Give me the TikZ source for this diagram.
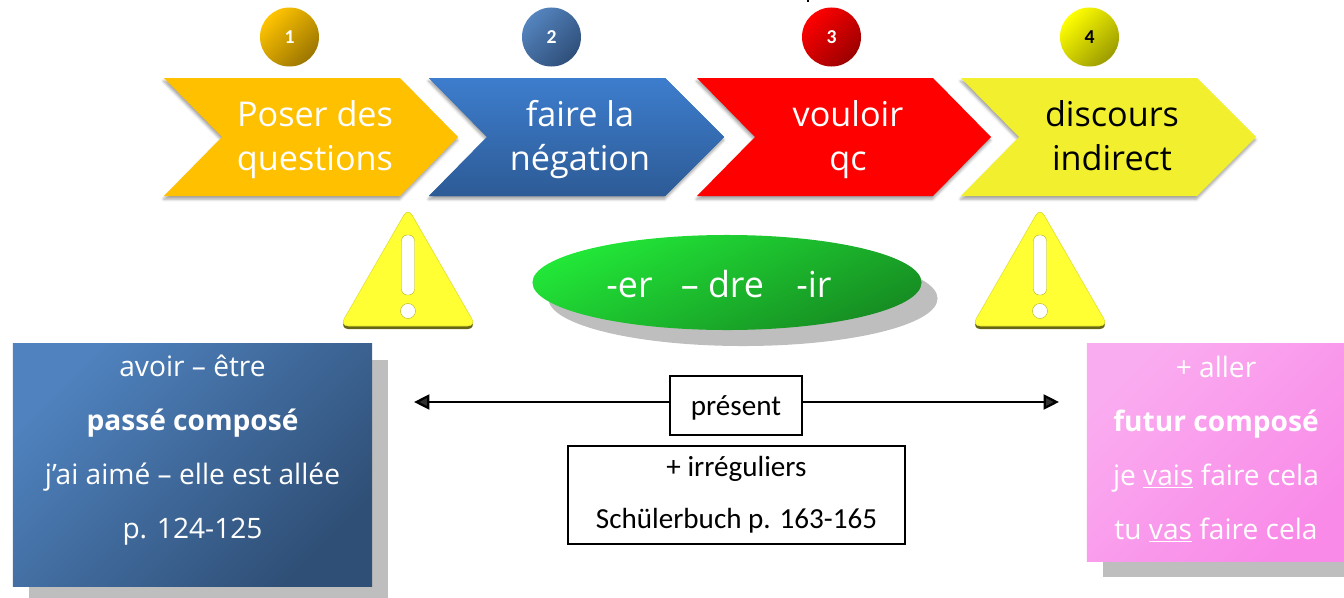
\documentclass[tikz,border=0pt]{standalone}
\usepackage{fontspec}
\setmainfont{Open Sans}
\newfontfamily\calibri{Carlito}
\usetikzlibrary{shapes,arrows,arrows.meta,positioning,shadows,shadows.blur}
\definecolor{shadowgrey}{HTML}{BEBEBE}
\definecolor{warnyellow}{HTML}{FFFF33}
\tikzset{
   chevron/.style={blur shadow={shadow xshift=-0.3pt, shadow yshift=-2.2pt, shadow blur radius=2pt, shadow opacity=38}},
   numdot/.style={circle, minimum size=59*0.7113pt, inner sep=0pt, text=white, font=\calibri\fontsize{14}{15}\bfseries\selectfont},
   steptext/.style={align=center, text=white, font=\fontsize{24.3}{31.3}\selectfont},
   sidebox/.style={inner sep=0pt, drop shadow={opacity=1, fill=shadowgrey, shadow xshift=11.38pt, shadow yshift=-11.38pt}},
   sidetext/.style={align=center, text=white, font=\fontsize{20}{38.4}\selectfont},
   plainbox/.style={draw=black, line width=1.1pt, fill=white, inner sep=0pt, align=center, font=\calibri\fontsize{20.7}{36.7}\selectfont}
}
\tikzstyle{arrow} = [line width=1.6pt,-{Triangle[length=11pt,width=10.7pt]}]

\begin{document}
\begin{tikzpicture}[x=0.025cm,y=-0.025cm]
\useasboundingbox (0,0) rectangle (1344,598);

% mark at the top edge
\fill (806.5,0) rectangle (809,2);

%% Chevrons
\fill[chevron, fill={rgb,255:red,255;green,192;blue,0}]
	(164,78) -- (400,78) -- (458,137) -- (400,196) -- (164,196) -- (222,137) -- cycle;
\node[steptext] (poser) at (315,140) {\strut Poser des\\\strut questions};

\fill[chevron, fill={rgb,255:red,52;green,108;blue,180}]
	(429,78) -- (665,78) -- (724,137) -- (665,196) -- (429,196) -- (487,137) -- cycle;
\shade[top color={rgb,255:red,61;green,125;blue,205}, bottom color={rgb,255:red,45;green,91;blue,150}]
	(429,78) -- (665,78) -- (724,137) -- (665,196) -- (429,196) -- (487,137) -- cycle;
\node[steptext] (faire) at (580,140) {\strut faire la\\\strut négation};

\fill[chevron, fill=red]
	(697,78) -- (933,78) -- (991,137) -- (933,196) -- (697,196) -- (755,137) -- cycle;
\node[steptext] (vouloir) at (848,140) {\strut vouloir\\\strut qc};

\fill[chevron, fill={rgb,255:red,242;green,240;blue,46}]
	(961,78) -- (1197,78) -- (1256,137) -- (1197,196) -- (961,196) -- (1019,137) -- cycle;
\node[steptext, text=black] (discours) at (1112,140) {\strut discours\\\strut indirect};

%% Numbered dots
\node[numdot, top color={rgb,255:red,255;green,196;blue,0}, bottom color={rgb,255:red,155;green,117;blue,0}, shading angle=45] (dotone) at (289.5,37) {1};
\node[numdot, top color={rgb,255:red,84;green,132;blue,190}, bottom color={rgb,255:red,47;green,79;blue,122}, shading angle=45] (dottwo) at (551.5,37) {2};
\node[numdot, top color={rgb,255:red,255;green,0;blue,0}, bottom color={rgb,255:red,155;green,0;blue,0}, shading angle=45] (dotthree) at (831.5,37) {3};
\node[numdot, text=black, top color={rgb,255:red,255;green,255;blue,0}, bottom color={rgb,255:red,155;green,155;blue,0}, shading angle=45] (dotfour) at (1089.5,37) {4};

%% Warning signs
\foreach \cx in {408,1040}{
	\fill[rounded corners=6pt, fill=black!60!warnyellow]
		(\cx,208) -- (\cx+68,329) -- (\cx-68,329) -- cycle;
	\fill[rounded corners=6pt, fill=warnyellow, draw=black!12!warnyellow]
		(\cx,208) -- (\cx+68,326) -- (\cx-68,326) -- cycle;
	\fill[white, draw=black!30!warnyellow, line width=0.3pt, rounded corners=4.2pt] (\cx-6.5,235) rectangle (\cx+6.5,295);
	\fill[white, draw=black!30!warnyellow, line width=0.3pt] (\cx,311) circle (7.5);
}

%% Green ellipse
\node[ellipse, inner sep=0pt, minimum width=389*0.7113pt, minimum height=95*0.7113pt, top color={rgb,255:red,34;green,232;blue,56}, bottom color={rgb,255:red,22;green,140;blue,34}, shading angle=25,
	drop shadow={opacity=1, fill=shadowgrey, shadow xshift=11.38pt, shadow yshift=-11.38pt}, text=white, text height=22pt, text depth=0pt, font=\fontsize{25.5}{30}\selectfont] (endings) at (727,282.5) {-er\hspace{20pt}-- dre\hspace{23pt}-ir\hspace*{11.4pt}};

%% Left box
\node[sidebox, minimum width=359*0.7113pt, minimum height=242*0.7113pt, top color={rgb,255:red,79;green,130;blue,190}, bottom color={rgb,255:red,47;green,79;blue,118}, shading angle=45] (passe) at (192.5,465) {};
\node[sidetext] (passetext) at (192.5,450.5) {avoir -- être\\\textbf{passé composé}\\j’ai aimé -- elle est allée\\p. 124-125};

%% Right box
\node[sidebox, minimum width=258*0.7113pt, minimum height=217*0.7113pt, top color={rgb,255:red,250;green,172;blue,240}, bottom color={rgb,255:red,249;green,138;blue,232}, shading angle=45] (futur) at (1216,452.5) {};
\node[sidetext] (futurtext) at (1216,449) {+ aller\\\textbf{futur composé}\\je \underline{vais} faire cela\\tu \underline{vas} faire cela};

%% Centre boxes
\node[plainbox, minimum width=132*0.7113pt, minimum height=59*0.7113pt, text height=17.6pt, text depth=4pt] (present) at (736,405.5) {présent};
\node[plainbox, minimum width=337*0.7113pt, minimum height=98*0.7113pt] (irreg) at (736.5,495) {+ irréguliers\\Schülerbuch p. 163-165};

\coordinate (leftend) at (414,402);
\coordinate (rightend) at (1059,402);
\draw[arrow] (present.west |- leftend) -- (leftend);
\draw[arrow] (present.east |- rightend) -- (rightend);
\end{tikzpicture}
\end{document}
